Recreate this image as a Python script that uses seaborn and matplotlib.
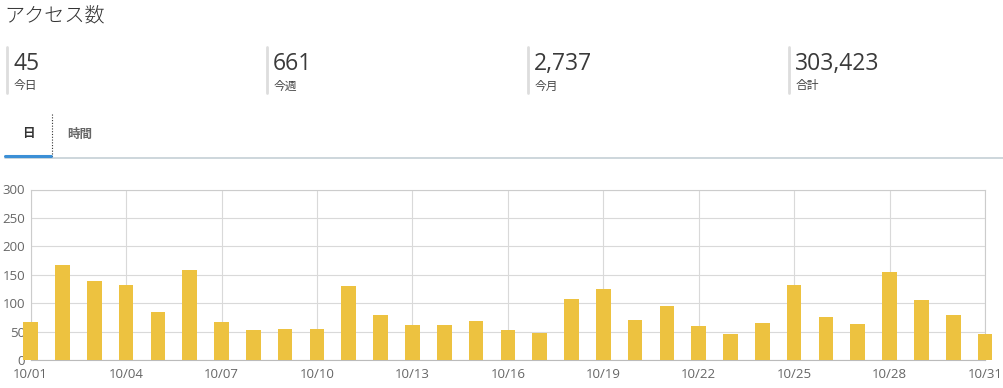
import matplotlib
matplotlib.use("Agg")
import matplotlib.pyplot as plt
from matplotlib.lines import Line2D
import seaborn as sns
import pandas as pd

# ---- data ----
days = [f"10/{d:02d}" for d in range(1, 32)]
visits = [66, 167, 139, 132, 84, 158, 67, 53, 55, 55,
          130, 79, 61, 62, 68, 53, 47, 107, 125, 70,
          95, 59, 46, 65, 132, 75, 63, 155, 105, 79, 45]
stat_values = ["45", "661", "2,737", "303,423"]
stat_labels = ["今日", "今週", "今月", "合計"]
tab_labels = ["日", "時間"]
title = "アクセス数"
yticks = [0, 50, 100, 150, 200, 250, 300]
xtick_idx = list(range(0, 31, 3))

sns.set_theme(style="white")
plt.rcParams['font.family'] = ['Open Sans', 'Noto Sans CJK JP', 'DejaVu Sans']

W, H = 1004, 388
fig = plt.figure(figsize=(W / 100, H / 100), dpi=100)

def fx(x):
    return x / W

def fy(y):
    return 1 - y / H

jp = ['Noto Sans CJK JP', 'DejaVu Sans']

# title
fig.text(fx(4), fy(16), title, fontsize=14.5, color="#333333", va="center", ha="left",
         family=jp, weight="light")

# stats
stat_x = [7, 267, 528, 789]
for sx, v, lab in zip(stat_x, stat_values, stat_labels):
    fig.add_artist(Line2D([fx(sx), fx(sx)], [fy(47), fy(93)], color="#dddddd", lw=2))
    fig.text(fx(sx + 6), fy(64), v, fontsize=16.5, color="#3a3a3a", va="center", ha="left",
             family=['Open Sans', 'DejaVu Sans'])
    fig.text(fx(sx + 7), fy(86), lab, fontsize=8.5, color="#444444", va="center", ha="left", family=jp)

# tabs
fig.text(fx(28), fy(134), tab_labels[0], fontsize=9, color="#333333", weight="bold",
         va="center", ha="center", family=jp)
fig.text(fx(67), fy(134), tab_labels[1], fontsize=9, color="#666666", weight="bold",
         va="center", ha="left", family=jp)
fig.add_artist(Line2D([fx(5), fx(1004)], [fy(157.5), fy(157.5)], color="#c5d0d5", lw=1.2))
fig.add_artist(Line2D([fx(5), fx(51)], [fy(156), fy(156)], color="#3b8fd6", lw=2.2))
fig.add_artist(Line2D([fx(51.5), fx(51.5)], [fy(114), fy(156)], color="#333333", lw=0.8,
                      linestyle=(0, (1, 1.5))))

# chart
ax = fig.add_axes([fx(30.7), fy(360), fx(985) - fx(30.7), fy(189.5) - fy(360)])
df = pd.DataFrame({"day": days, "visits": visits})
sns.barplot(data=df, x="day", y="visits", color="#edc240", saturation=1, width=0.46, ax=ax,
            zorder=3)
for p in ax.patches:
    p.set_clip_on(False)
    p.set_edgecolor("none")

ax.set_xlim(0, 30)
ax.set_ylim(0, 300)
ax.set_yticks(yticks)
ax.set_yticklabels([str(t) for t in yticks])
ax.set_xticks(xtick_idx)
ax.set_xticklabels([days[i] for i in xtick_idx])
ax.set_xlabel("")
ax.set_ylabel("")
ax.grid(True, color="#d9d9d9", lw=0.8, zorder=0)
ax.set_axisbelow(True)
for s in ax.spines.values():
    s.set_color("#cccccc")
    s.set_linewidth(0.8)
ax.spines["bottom"].set_color("#bbbbbb")
ax.tick_params(axis="both", length=0, labelsize=9.5, colors="#666666")
ax.tick_params(axis="y", pad=4)
ax.tick_params(axis="x", pad=6)
for t in ax.get_xticklabels() + ax.get_yticklabels():
    t.set_family(['Open Sans', 'DejaVu Sans'])

fig.savefig("out.png", dpi=100)
